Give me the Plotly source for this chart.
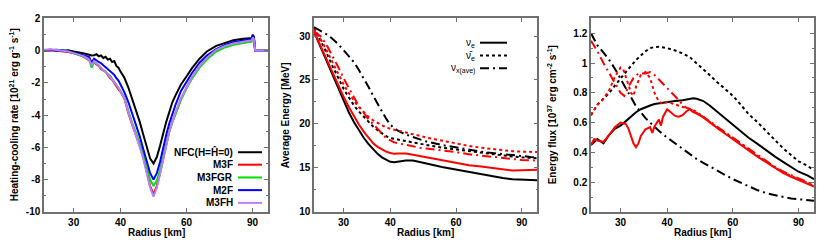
import math
import plotly.graph_objects as go

# ---------------- Panel 1: heating-cooling rate ----------------
R1 = [25, 26, 27, 28, 29, 30, 31, 32,
      33, 33.5, 34, 34.5, 35, 35.5, 36, 36.5, 37, 37.5, 38, 38.5, 39, 39.5, 40,
      41, 42, 43, 44, 45, 46, 47, 48, 49, 50, 51, 52, 53, 54, 55, 56, 58, 60, 62, 65,
      68, 72, 76, 80, 84, 88, 89.5, 90.2, 90.8, 91.5, 93, 96, 99]
NFC = [0.0, 0.02, 0.05, 0.0, 0.03, -0.05, -0.1, -0.18,
       -0.25, -0.3, -0.28, -0.22, -0.35, -0.3, -0.45, -0.38, -0.55, -0.5, -0.7, -0.65, -0.95, -1.05, -1.3,
       -1.7, -2.3, -3.0, -3.7, -4.4, -5.2, -6.0, -6.7, -7.0, -6.6, -5.9, -5.1, -4.4, -3.8, -3.2, -2.8,
       -2.1, -1.6, -1.1, -0.5, -0.05, 0.3, 0.5, 0.65, 0.72, 0.77, 0.78, 1.0, 0.85, 0.0, 0.0, 0.0, 0.0]
M3F = [0.0, 0.03, 0.0, -0.02, -0.08, -0.15, -0.25, -0.4,
       -0.6, -0.85, -0.7, -0.85, -0.95, -1.15, -1.25, -1.3, -1.5, -1.7, -1.8, -2.05, -2.2, -2.4, -2.55,
       -3.0, -3.9, -4.6, -5.2, -5.9, -6.6, -7.5, -8.4, -8.9, -8.4, -7.6, -6.7, -5.8, -5.0, -4.4, -3.9,
       -3.0, -2.3, -1.7, -1.0, -0.5, 0.0, 0.25, 0.4, 0.5, 0.57, 0.6, 0.8, 0.7, 0.0, 0.0, 0.0, 0.0]
M3FGR = [0.0, 0.05, 0.02, 0.04, -0.05, -0.15, -0.25, -0.38,
         -0.55, -1.05, -0.7, -0.8, -0.9, -1.1, -1.2, -1.3, -1.45, -1.55, -1.75, -1.95, -2.15, -2.3, -2.5,
         -2.95, -3.8, -4.5, -5.1, -5.7, -6.4, -7.2, -8.0, -8.4, -8.05, -7.4, -6.6, -5.8, -5.0, -4.45, -3.95,
         -3.05, -2.35, -1.75, -1.05, -0.55, -0.05, 0.2, 0.37, 0.47, 0.54, 0.56, 0.75, 0.65, 0.0, 0.0, 0.0, 0.0]
M2F = [0.02, 0.05, 0.0, 0.03, -0.05, -0.12, -0.2, -0.3,
       -0.4, -0.75, -0.5, -0.62, -0.7, -0.78, -0.9, -1.0, -1.15, -1.25, -1.4, -1.5, -1.7, -1.85, -2.1,
       -2.6, -3.2, -3.9, -4.6, -5.3, -6.1, -6.9, -7.6, -8.0, -7.6, -6.9, -6.0, -5.2, -4.5, -3.9, -3.4,
       -2.5, -1.9, -1.4, -0.75, -0.3, 0.1, 0.35, 0.52, 0.62, 0.7, 0.72, 0.95, 0.8, 0.0, 0.0, 0.0, 0.0]
M3FH = [0.05, 0.08, 0.04, 0.0, -0.05, -0.15, -0.25, -0.35,
        -0.55, -0.9, -0.65, -0.8, -0.9, -1.05, -1.2, -1.3, -1.45, -1.6, -1.75, -1.95, -2.1, -2.3, -2.5,
        -2.95, -3.85, -4.55, -5.2, -5.95, -6.7, -7.6, -8.5, -9.05, -8.5, -7.65, -6.7, -5.8, -5.0, -4.4, -3.85,
        -2.95, -2.25, -1.65, -0.95, -0.45, 0.05, 0.3, 0.45, 0.55, 0.62, 0.63, 0.82, 0.7, 0.0, 0.0, 0.0, 0.0]
P1_NAMES = ["NFC(H=Ĥ=0)", "M3F", "M3FGR", "M2F", "M3FH"]
P1_COLORS = ["#000000", "#ff0000", "#00e000", "#0000ff", "#b87fff"]
P1_YTICKS = [-10, -8, -6, -4, -2, 0, 2]

# ---------------- Panel 2: average energy ----------------
R2 = [25, 26, 27, 28, 29, 30, 31, 32, 33, 34, 35, 36, 37, 38, 39, 40, 41, 42, 44, 46,
      48, 50, 55, 60, 65, 70, 75, 80, 85, 90, 95, 99]
E_nue_NFC = [30.5, 28.8, 27.1, 25.5, 24.0, 22.6, 21.3, 20.2, 19.2, 18.4,
             17.7, 17.1, 16.6, 16.2, 15.9, 15.7, 15.65, 15.7, 15.85, 15.85,
             15.7, 15.5, 15.1, 14.8, 14.5, 14.25, 14.05, 13.85, 13.7, 13.65, 13.6, 13.6]
E_nue_M3F = [30.5, 28.9, 27.3, 25.8, 24.4, 23.1, 21.9, 20.8, 19.9, 19.1,
             18.4, 17.8, 17.4, 17.1, 16.85, 16.7, 16.6, 16.65, 16.65, 16.5,
             16.35, 16.2, 15.9, 15.6, 15.3, 15.15, 15.0, 14.8, 14.7, 14.75, 14.8, 14.8]
E_anue_NFC = [31.0, 29.6, 28.1, 26.6, 25.2, 24.0, 23.0, 22.1, 21.4, 20.8,
              20.2, 19.7, 19.3, 18.9, 18.6, 18.4, 18.3, 18.2, 18.05, 17.9,
              17.75, 17.6, 17.3, 17.1, 16.9, 16.7, 16.55, 16.4, 16.3, 16.2, 16.15, 16.1]
E_anue_M3F = [30.8, 29.7, 28.4, 27.0, 25.7, 24.5, 23.5, 22.6, 21.9, 21.3,
              20.8, 20.4, 20.1, 19.8, 19.6, 19.45, 19.35, 19.25, 19.05, 18.85,
              18.65, 18.45, 18.1, 17.8, 17.5, 17.3, 17.15, 17.0, 16.9, 16.85, 16.8, 16.8]
E_nux_NFC = [31.0, 30.6, 30.2, 29.7, 29.1, 28.4, 27.7, 27.0, 26.1, 25.2,
             24.2, 23.2, 22.3, 21.4, 20.6, 19.9, 19.5, 19.2, 18.8, 18.5,
             18.25, 18.0, 17.6, 17.3, 17.05, 16.85, 16.7, 16.55, 16.45, 16.35, 16.25, 16.2]
E_nux_M3F = [30.5, 30.0, 29.0, 27.8, 26.5, 25.2, 24.0, 23.0, 22.0, 21.2,
             20.5, 20.0, 19.4, 18.9, 18.4, 18.1, 17.9, 17.8, 17.6, 17.45,
             17.3, 17.2, 17.0, 16.8, 16.55, 16.4, 16.25, 16.1, 16.0, 15.9, 15.87, 15.85]
P2_YTICKS = [10, 15, 20, 25, 30]

# ---------------- Panel 3: energy flux ----------------
R3 = [25, 26, 27, 28, 29, 30, 31, 32, 33, 34, 35, 36, 37, 38, 39, 40, 42, 44, 46, 47,
      48, 50, 52, 54, 56, 58, 60, 63, 66, 70, 74, 78, 82, 86, 90, 95, 99]
F_nue_NFC = [0.45, 0.49, 0.46, 0.52, 0.56, 0.58, 0.61, 0.64, 0.67, 0.69,
             0.705, 0.715, 0.725, 0.73, 0.735, 0.74, 0.745, 0.75, 0.76, 0.764,
             0.76, 0.745, 0.715, 0.68, 0.65, 0.615, 0.585, 0.54, 0.5, 0.455,
             0.41, 0.37, 0.335, 0.3, 0.27, 0.245, 0.22]
F_anue_NFC = [0.65, 0.72, 0.76, 0.8, 0.85, 0.9, 0.94, 0.98, 1.02, 1.05,
              1.08, 1.1, 1.108, 1.11, 1.105, 1.1, 1.085, 1.065, 1.04, 1.02,
              1.0, 0.96, 0.92, 0.88, 0.845, 0.81, 0.78, 0.72, 0.66, 0.6,
              0.535, 0.48, 0.425, 0.38, 0.34, 0.31, 0.28]
F_nux_NFC = [1.2, 1.12, 1.07, 1.02, 0.96, 0.89, 0.83, 0.77, 0.71, 0.67,
             0.63, 0.6, 0.57, 0.545, 0.52, 0.5, 0.46, 0.42, 0.385, 0.37,
             0.355, 0.33, 0.305, 0.28, 0.26, 0.24, 0.22, 0.195, 0.17, 0.145,
             0.125, 0.11, 0.1, 0.09, 0.085, 0.078, 0.075]
R3_nue_M3F = [25, 25.5, 26, 27, 28, 29, 30, 31, 31.5, 32, 32.5, 33, 33.5, 34, 35, 36, 36.5,
              37, 38, 38.5, 39, 40, 40.5, 41, 42, 43, 44, 45, 46, 47, 48, 50, 52, 55, 58,
              60, 63, 66, 70, 74, 77, 82, 86, 90, 95, 99]
F_nue_M3F = [0.45, 0.49, 0.48, 0.47, 0.52, 0.57, 0.60, 0.59, 0.56, 0.51,
             0.46, 0.435, 0.46, 0.51, 0.555, 0.57, 0.53, 0.575, 0.62, 0.58,
             0.64, 0.69, 0.68, 0.665, 0.645, 0.64, 0.65, 0.675, 0.69, 0.67,
             0.66, 0.635, 0.6, 0.555, 0.515, 0.49, 0.455, 0.415, 0.37, 0.33,
             0.3, 0.26, 0.235, 0.215, 0.19, 0.17]
R3_anue_M3F = [25, 26, 27, 28, 29, 30, 30.5, 31, 32, 32.5, 33, 34, 35, 36, 37, 38, 39, 40,
               41, 42, 43, 44, 45, 46, 47, 48, 50, 52, 55, 58, 60, 63, 66, 70, 74, 77, 82,
               86, 90, 95, 99]
F_anue_M3F = [0.65, 0.72, 0.76, 0.82, 0.91, 0.97, 0.96, 0.9, 0.8, 0.78,
              0.84, 0.92, 0.94, 0.9, 0.8, 0.74, 0.725, 0.74, 0.73, 0.72,
              0.71, 0.705, 0.7, 0.695, 0.685, 0.67, 0.64, 0.605, 0.56, 0.52,
              0.495, 0.46, 0.42, 0.375, 0.335, 0.305, 0.265, 0.24, 0.22, 0.195, 0.175]
R3_nux_M3F = [25, 26, 27, 28, 29, 30, 30.7, 31.5, 32.5, 33.5, 35, 36, 37, 38, 39, 40, 41,
              42, 43, 44, 45, 47, 50, 52, 55, 58, 60, 63, 66, 70, 74, 77, 82, 86, 90, 95, 99]
F_nux_M3F = [1.15, 1.08, 1.0, 0.93, 0.86, 0.8, 0.78, 0.84, 0.9, 0.93,
             0.93, 0.94, 0.92, 0.89, 0.86, 0.83, 0.8, 0.78, 0.75, 0.72,
             0.7, 0.68, 0.64, 0.61, 0.565, 0.525, 0.5, 0.465, 0.425, 0.38,
             0.34, 0.31, 0.27, 0.245, 0.225, 0.2, 0.18]
P3_YTICKS = [0, 0.2, 0.4, 0.6, 0.8, 1.0, 1.2]
P3_YTEXT = ["0", "0.2", "0.4", "0.6", "0.8", "1", "1.2"]

X_TICKS = [30, 40, 60, 90]
X_RANGE = [25, 99]

for s in [NFC, M3F, M3FGR, M2F, M3FH]:
    assert len(s) == len(R1)

W, H = 830, 245
SOLID = "solid"
DOT = "3px,3px"
DASHDOT = "9px,4px,2px,4px"
LW = 2

fig = go.Figure()

for name, ys, col in zip(P1_NAMES, [NFC, M3F, M3FGR, M2F, M3FH], P1_COLORS):
    fig.add_trace(go.Scatter(x=R1, y=ys, mode="lines", name=name,
                             line=dict(color=col, width=LW), xaxis="x", yaxis="y"))

p2 = [(R2, E_nue_NFC, "#000000", SOLID), (R2, E_anue_NFC, "#000000", DOT), (R2, E_nux_NFC, "#000000", DASHDOT),
      (R2, E_nue_M3F, "#ff0000", SOLID), (R2, E_anue_M3F, "#ff0000", DOT), (R2, E_nux_M3F, "#ff0000", DASHDOT)]
for xs, ys, col, dash in p2:
    fig.add_trace(go.Scatter(x=xs, y=ys, mode="lines", line=dict(color=col, width=LW, dash=dash),
                             xaxis="x2", yaxis="y2"))

p3 = [(R3, F_nue_NFC, "#000000", SOLID), (R3, F_anue_NFC, "#000000", DOT), (R3, F_nux_NFC, "#000000", DASHDOT),
      (R3_nue_M3F, F_nue_M3F, "#ff0000", SOLID), (R3_anue_M3F, F_anue_M3F, "#ff0000", DOT),
      (R3_nux_M3F, F_nux_M3F, "#ff0000", DASHDOT)]
for xs, ys, col, dash in p3:
    fig.add_trace(go.Scatter(x=xs, y=ys, mode="lines", line=dict(color=col, width=LW, dash=dash),
                             xaxis="x3", yaxis="y3"))

FONT = "Liberation Sans, Arial, sans-serif"
tickfont = dict(family=FONT, size=10, color="black", weight="bold")
FRAME = "#707070"

def xaxis(dom, anchor):
    return dict(domain=dom, anchor=anchor, type="log",
                range=[math.log10(X_RANGE[0]), math.log10(X_RANGE[1])],
                tickvals=X_TICKS, ticktext=[str(t) for t in X_TICKS],
                ticks="inside", ticklen=4, tickcolor=FRAME, showline=True, linecolor=FRAME,
                linewidth=1.5, mirror="ticks", showgrid=False, zeroline=False, tickfont=tickfont)

def yaxis(anchor, rng, tickvals, ticktext, minor):
    return dict(domain=[1 - 215.7 / H, 1 - 14 / H], anchor=anchor, range=rng,
                tickvals=tickvals, ticktext=ticktext,
                ticks="inside", ticklen=4, tickcolor=FRAME, showline=True, linecolor=FRAME,
                linewidth=1.5, mirror="ticks", showgrid=False, zeroline=False, tickfont=tickfont,
                minor=dict(dtick=minor, ticks="inside", ticklen=2, tickcolor=FRAME))

fig.update_layout(
    width=W, height=H, margin=dict(l=0, r=0, t=0, b=0),
    paper_bgcolor="white", plot_bgcolor="white", showlegend=False,
    xaxis=xaxis([44 / W, 268 / W], "y"),
    yaxis=yaxis("x", [-10, 2], P1_YTICKS, [str(v) for v in P1_YTICKS], 1),
    xaxis2=xaxis([314 / W, 537.3 / W], "y2"),
    yaxis2=yaxis("x2", [10, 32], P2_YTICKS, [str(v) for v in P2_YTICKS], 2.5),
    xaxis3=xaxis([591 / W, 814 / W], "y3"),
    yaxis3=yaxis("x3", [0, 1.3], P3_YTICKS, P3_YTEXT, 0.1),
)

ann = []
shapes = []
titlefont = dict(family=FONT, size=10, color="black", weight="bold")
for cx in [156, 425.6, 702.5]:
    ann.append(dict(x=cx / W, y=1 - 237.5 / H, xref="paper", yref="paper", text="Radius [km]",
                    showarrow=False, font=titlefont, xanchor="center", yanchor="middle"))
ytitles = [(14, "Heating-cooling rate [10<sup>21</sup> erg g<sup>-1</sup> s<sup>-1</sup>]"),
           (285, "Average Energy [MeV]"),
           (552, "Energy flux [10<sup>37</sup> erg cm<sup>-2</sup> s<sup>-1</sup>]")]
for px, t in ytitles:
    ann.append(dict(x=px / W, y=1 - 115 / H, xref="paper", yref="paper", text=t, textangle=-90,
                    showarrow=False, font=titlefont, xanchor="center", yanchor="middle"))

rows1 = [153.5, 166.5, 179.8, 193, 206.3]
for name, col, py in zip(P1_NAMES, P1_COLORS, rows1):
    ann.append(dict(x=235 / W, y=1 - py / H, xref="paper", yref="paper", text=name, showarrow=False,
                    font=titlefont, xanchor="right", yanchor="middle"))
    shapes.append(dict(type="line", xref="paper", yref="paper", x0=238 / W, x1=262 / W,
                       y0=1 - py / H, y1=1 - py / H, line=dict(color=col, width=LW)))

leg2 = [("ν<sub>e</sub>", SOLID, 39.3), ("ν̄<sub>e</sub>", DOT, 52.7), ("ν<sub>x(ave)</sub>", DASHDOT, 66)]
for t, dash, py in leg2:
    ann.append(dict(x=477 / W, y=1 - py / H, xref="paper", yref="paper", text=t, showarrow=False,
                    font=dict(family=FONT, size=10, color="black"), xanchor="right", yanchor="middle"))
    shapes.append(dict(type="line", xref="paper", yref="paper", x0=480 / W, x1=507 / W,
                       y0=1 - py / H, y1=1 - py / H, line=dict(color="black", width=LW, dash=dash)))

fig.update_layout(annotations=ann, shapes=shapes)
fig.write_html("out.html", config={"displayModeBar": False},
               post_script="document.body.style.margin='0px';")
